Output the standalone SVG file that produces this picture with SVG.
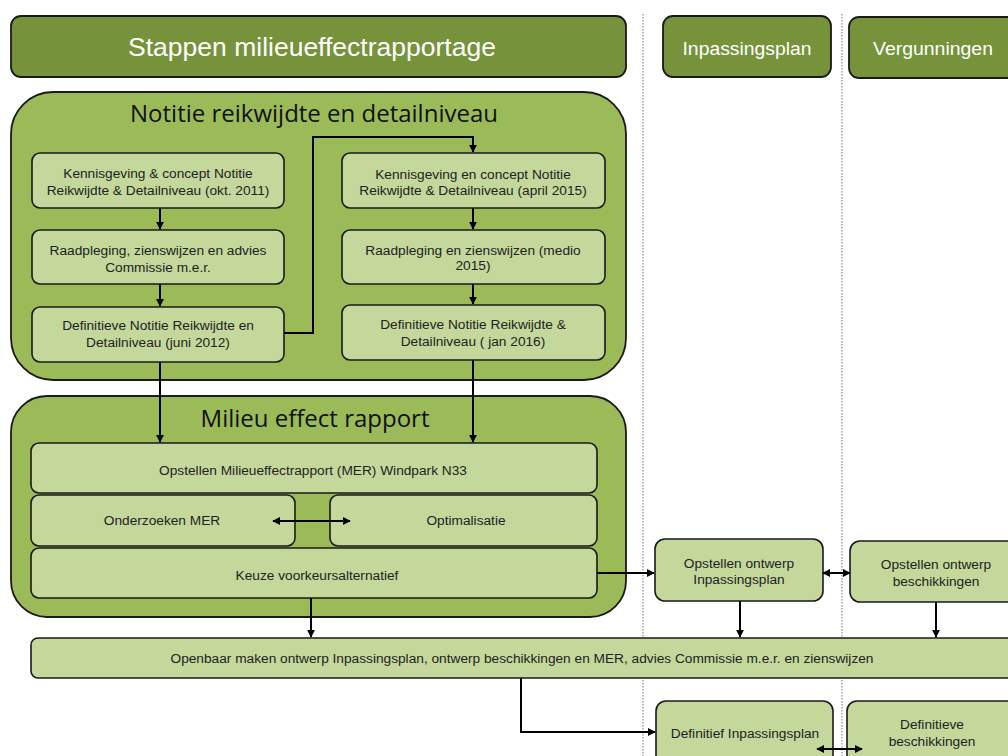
<svg xmlns="http://www.w3.org/2000/svg" width="1008" height="756" viewBox="0 0 1008 756">
<defs>
<marker id="ah" viewBox="0 0 10 10" refX="9" refY="5" markerWidth="8" markerHeight="8" orient="auto-start-reverse" markerUnits="userSpaceOnUse">
<path d="M0,0 L10,5 L0,10 z" fill="#000"/>
</marker>
<style>
.hdr{fill:#76933c;stroke:#1a1a1a;stroke-width:1.8}
.cont{fill:#9bbb59;stroke:#1a1a1a;stroke-width:1.8}
.box{fill:#c4d89c;stroke:#1a1a1a;stroke-width:1.6}
.ht{font-family:"Liberation Sans",Arial,sans-serif;fill:#fff;text-anchor:middle}
.ct{font-family:"Open Sans","Liberation Sans",sans-serif;fill:#111;text-anchor:middle;font-size:24px}
.bt{font-family:"Liberation Sans",Arial,sans-serif;fill:#222;text-anchor:middle;font-size:13.7px}
.dot{stroke:#777;stroke-width:1;stroke-dasharray:1.5 1.5;fill:none}
.ln{stroke:#000;stroke-width:2;fill:none}
</style>
</defs>
<rect width="1008" height="756" fill="#fff"/>
<g id="dividers">
<line class="dot" x1="643" y1="14" x2="643" y2="756"/>
<line class="dot" x1="842" y1="14" x2="842" y2="756"/>
</g>
<g id="hdr-mer"><rect class="hdr" x="11" y="16" width="615" height="61" rx="10"/><text class="ht" x="312" y="56" font-size="26.5">Stappen milieueffectrapportage</text></g>
<g id="hdr-ip"><rect class="hdr" x="663" y="16" width="168" height="61" rx="10"/><text class="ht" x="747" y="55" font-size="18" textLength="129" lengthAdjust="spacingAndGlyphs">Inpassingsplan</text></g>
<g id="hdr-vg"><rect class="hdr" x="849" y="17" width="175" height="61" rx="10"/><text class="ht" x="933" y="55" font-size="18" textLength="120" lengthAdjust="spacingAndGlyphs">Vergunningen</text></g>

<g id="notitie"><rect class="cont" x="11" y="92" width="615" height="288" rx="42"/><text class="ct" x="314" y="122">Notitie reikwijdte en detailniveau</text></g>
<g id="n1"><rect class="box" x="32" y="153" width="252" height="55" rx="8"/><text class="bt" x="158" y="178">Kennisgeving &amp; concept Notitie</text><text class="bt" x="158" y="195">Reikwijdte &amp; Detailniveau (okt. 2011)</text></g>
<g id="n2"><rect class="box" x="32" y="230" width="252" height="54" rx="8"/><text class="bt" x="158" y="255">Raadpleging, zienswijzen en advies</text><text class="bt" x="158" y="272">Commissie m.e.r.</text></g>
<g id="n3"><rect class="box" x="32" y="307" width="252" height="55" rx="8"/><text class="bt" x="158" y="330">Definitieve Notitie Reikwijdte en</text><text class="bt" x="158" y="347">Detailniveau (juni 2012)</text></g>
<g id="n4"><rect class="box" x="342" y="153" width="263" height="55" rx="8"/><text class="bt" x="473" y="179">Kennisgeving en concept Notitie</text><text class="bt" x="473" y="195">Reikwijdte &amp; Detailniveau (april 2015)</text></g>
<g id="n5"><rect class="box" x="342" y="230" width="263" height="54" rx="8"/><text class="bt" x="473" y="255">Raadpleging en zienswijzen (medio</text><text class="bt" x="473" y="270">2015)</text></g>
<g id="n6"><rect class="box" x="342" y="305" width="263" height="55" rx="8"/><text class="bt" x="473" y="329">Definitieve Notitie Reikwijdte &amp;</text><text class="bt" x="473" y="346">Detailniveau ( jan 2016)</text></g>

<g id="mer"><rect class="cont" x="11" y="396" width="615" height="221" rx="36"/><text class="ct" x="315" y="427">Milieu effect rapport</text></g>
<g id="m1"><rect class="box" x="31" y="443" width="566" height="50" rx="8"/><text class="bt" x="313" y="475">Opstellen Milieueffectrapport (MER) Windpark N33</text></g>
<g id="m2"><rect class="box" x="31" y="495" width="264" height="51" rx="8"/><text class="bt" x="162" y="525">Onderzoeken MER</text></g>
<g id="m3"><rect class="box" x="330" y="495" width="267" height="51" rx="8"/><text class="bt" x="466" y="525">Optimalisatie</text></g>
<g id="m4"><rect class="box" x="31" y="548" width="566" height="50" rx="8"/><text class="bt" x="317" y="580">Keuze voorkeursalternatief</text></g>

<g id="ip1"><rect class="box" x="655" y="539" width="168" height="62" rx="10"/><text class="bt" x="739" y="568">Opstellen ontwerp</text><text class="bt" x="739" y="584">Inpassingsplan</text></g>
<g id="vg1"><rect class="box" x="850" y="541" width="175" height="61" rx="10"/><text class="bt" x="936" y="569">Opstellen ontwerp</text><text class="bt" x="936" y="586">beschikkingen</text></g>
<g id="pub"><rect class="box" x="31" y="638" width="990" height="40" rx="7"/><text class="bt" x="522" y="663">Openbaar maken ontwerp Inpassingsplan, ontwerp beschikkingen en MER, advies Commissie m.e.r. en zienswijzen</text></g>
<g id="ip2"><rect class="box" x="656" y="701" width="177" height="70" rx="10"/><text class="bt" x="745" y="738">Definitief Inpassingsplan</text></g>
<g id="vg2"><rect class="box" x="847" y="701" width="175" height="70" rx="10"/><text class="bt" x="932" y="729">Definitieve</text><text class="bt" x="932" y="746">beschikkingen</text></g>

<g id="connectors">
<line class="ln" x1="160" y1="208" x2="160" y2="229" marker-end="url(#ah)"/>
<line class="ln" x1="160" y1="284" x2="160" y2="306" marker-end="url(#ah)"/>
<polyline class="ln" points="284,333 313,333 313,137 473,137 473,152" marker-end="url(#ah)"/>
<line class="ln" x1="473" y1="208" x2="473" y2="229" marker-end="url(#ah)"/>
<line class="ln" x1="473" y1="284" x2="473" y2="304" marker-end="url(#ah)"/>
<line class="ln" x1="160" y1="362" x2="160" y2="442" marker-end="url(#ah)"/>
<line class="ln" x1="473" y1="360" x2="473" y2="442" marker-end="url(#ah)"/>
<line class="ln" x1="273" y1="521" x2="350" y2="521" marker-start="url(#ah)" marker-end="url(#ah)"/>
<line class="ln" x1="597" y1="573" x2="654" y2="573" marker-end="url(#ah)"/>
<line class="ln" x1="823" y1="573" x2="850" y2="573" marker-start="url(#ah)" marker-end="url(#ah)"/>
<line class="ln" x1="311" y1="598" x2="311" y2="637" marker-end="url(#ah)"/>
<line class="ln" x1="740" y1="601" x2="740" y2="637" marker-end="url(#ah)"/>
<line class="ln" x1="936" y1="602" x2="936" y2="637" marker-end="url(#ah)"/>
<polyline class="ln" points="521,678 521,732 655,732" marker-end="url(#ah)"/>
<line class="ln" x1="817" y1="749" x2="862" y2="749" marker-start="url(#ah)" marker-end="url(#ah)"/>
</g>
</svg>
